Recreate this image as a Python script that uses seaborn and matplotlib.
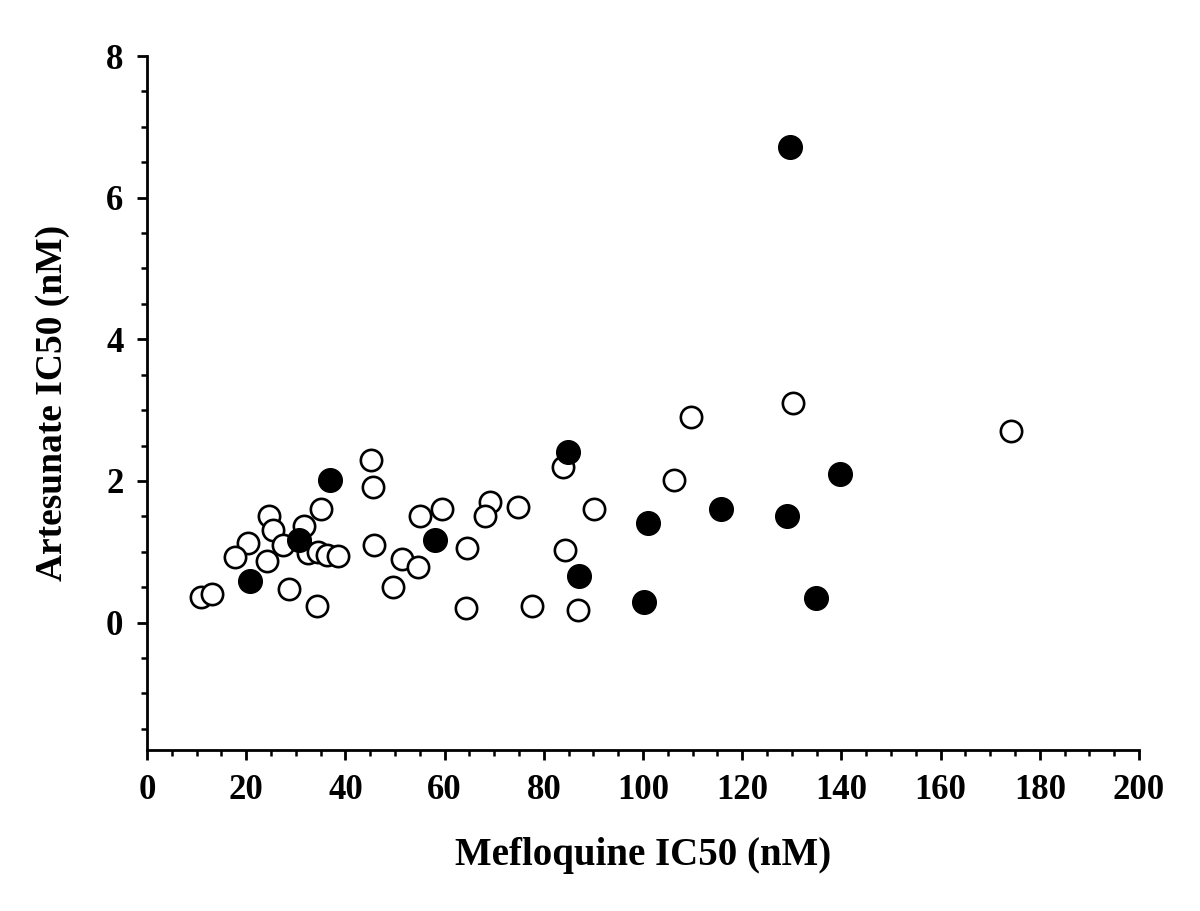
import matplotlib
matplotlib.use("Agg")
import matplotlib.pyplot as plt
import seaborn as sns
import pandas as pd
from matplotlib.ticker import MultipleLocator

sns.set_style("white")
plt.rcParams['font.family'] = ['Liberation Serif', 'DejaVu Serif']
plt.rcParams['font.weight'] = 'bold'
plt.rcParams['text.color'] = 'black'
plt.rcParams['axes.labelcolor'] = 'black'

# Open circles
open_x = [174.2, 130.2, 109.7, 106.3, 90.1, 83.9, 84.3, 74.8, 69.2, 68.1,
          59.5, 55.0, 64.5, 51.4, 54.6, 49.6, 64.3, 77.6, 86.9, 45.2,
          45.6, 45.8, 35.1, 34.2, 28.6, 24.6, 25.4, 31.6, 27.4, 32.5,
          20.4, 17.7, 24.2, 34.5, 36.3, 38.5, 10.9, 13.1]
open_y = [2.70, 3.10, 2.90, 2.01, 1.61, 2.20, 1.02, 1.63, 1.70, 1.50,
          1.60, 1.50, 1.05, 0.90, 0.79, 0.50, 0.20, 0.23, 0.18, 2.30,
          1.91, 1.10, 1.61, 0.23, 0.48, 1.50, 1.31, 1.36, 1.10, 0.98,
          1.12, 0.93, 0.87, 1.00, 0.95, 0.94, 0.36, 0.41]

# Filled circles
filled_x = [129.6, 36.9, 84.9, 30.6, 58.1, 20.8, 101.0, 115.7, 129.0, 139.7, 87.1, 100.2, 134.9]
filled_y = [6.71, 2.01, 2.41, 1.17, 1.16, 0.58, 1.40, 1.60, 1.50, 2.10, 0.66, 0.29, 0.35]

df_open = pd.DataFrame({"x": open_x, "y": open_y})
df_filled = pd.DataFrame({"x": filled_x, "y": filled_y})

fig = plt.figure(figsize=(12, 9.11), dpi=100)
ax = fig.add_axes([0.1225, 0.1767, 0.8267, 0.7618])

sns.scatterplot(data=df_open, x="x", y="y", ax=ax, s=235, color="white",
                edgecolor="black", linewidth=1.9, zorder=3)
sns.scatterplot(data=df_filled, x="x", y="y", ax=ax, s=290, color="black",
                edgecolor="black", linewidth=1.0, zorder=4)

ax.set_xlim(0, 200)
ax.set_ylim(-1.8, 8)
ax.xaxis.set_major_locator(MultipleLocator(20))
ax.xaxis.set_minor_locator(MultipleLocator(5))
ax.set_yticks([0, 2, 4, 6, 8])
ax.yaxis.set_minor_locator(MultipleLocator(0.5))

for s in ["top", "right"]:
    ax.spines[s].set_visible(False)
for s in ["left", "bottom"]:
    ax.spines[s].set_linewidth(2.0)
    ax.spines[s].set_color("black")
ax.spines["left"].set_bounds(-1.8, 8)

ax.tick_params(axis="both", which="major", direction="out", length=7, width=2.0,
               labelsize=25, colors="black", labelcolor="black", left=True, bottom=True, pad=10)
ax.tick_params(axis="both", which="minor", direction="out", length=4, width=1.8,
               colors="black", left=True, bottom=True)
for lab in ax.get_xticklabels() + ax.get_yticklabels():
    lab.set_fontweight("bold")

ax.set_xlabel("Mefloquine IC50 (nM)", fontsize=28, fontweight="bold", labelpad=22, color="black")
ax.set_ylabel("Artesunate IC50 (nM)", fontsize=27, fontweight="bold", labelpad=26, color="black")

fig.savefig("out.png", dpi=100, facecolor="white")
